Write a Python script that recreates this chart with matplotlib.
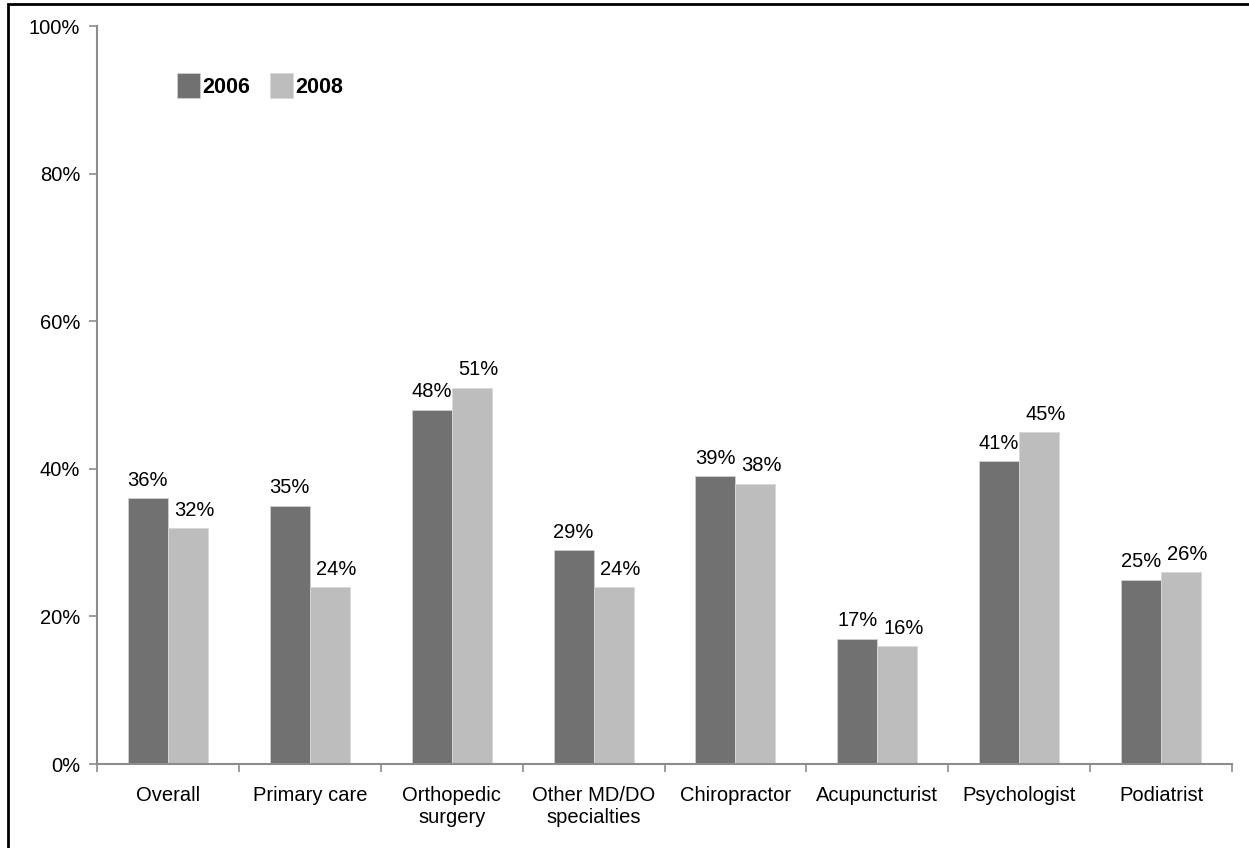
import numpy as np
import matplotlib.pyplot as plt
from matplotlib.patches import Rectangle
from matplotlib.ticker import FixedLocator, PercentFormatter

plt.rcParams['font.family'] = ['Liberation Sans', 'DejaVu Sans']

categories = ['Overall', 'Primary care', 'Orthopedic\nsurgery', 'Other MD/DO\nspecialties',
              'Chiropractor', 'Acupuncturist', 'Psychologist', 'Podiatrist']
y2006 = [36, 35, 48, 29, 39, 17, 41, 25]
y2008 = [32, 24, 51, 24, 38, 16, 45, 26]

W, H = 1249, 848
fig = plt.figure(figsize=(W / 100, H / 100), dpi=100)
ax = fig.add_axes([97 / W, (H - 764) / H, (1232 - 97) / W, (764 - 26) / H])

x = np.arange(len(categories))
bw = 0.282
dark, light = '#717171', '#bdbdbd'
b1 = ax.bar(x - bw / 2, y2006, bw, color=dark, edgecolor='#d0d0d0', linewidth=0.6, label='2006')
b2 = ax.bar(x + bw / 2, y2008, bw, color=light, edgecolor='#d8d8d8', linewidth=0.6, label='2008')

fs = 14.5
# value labels; the 2008 ones sit a little to the right of their bars
for bars, vals, dx in ((b1, y2006, 0), (b2, y2008, 4.5)):
    for rect, v in zip(bars, vals):
        ax.annotate(f'{v}%', (rect.get_x() + rect.get_width() / 2, v),
                    xytext=(dx, 6), textcoords='offset points',
                    ha='center', va='bottom', fontsize=fs)

ax.set_xlim(-0.5, len(categories) - 0.5)
ax.set_ylim(0, 100)
ax.set_yticks(range(0, 101, 20))
ax.yaxis.set_major_formatter(PercentFormatter(decimals=0))
ax.set_xticks(x)
ax.set_xticklabels(categories, fontsize=fs)
ax.xaxis.set_minor_locator(FixedLocator(np.arange(-0.5, len(categories), 1.0)))
ax.tick_params(axis='x', which='major', length=0, pad=16)
ax.tick_params(axis='x', which='minor', length=6, width=1.2, color='#8c8c8c', direction='out')
ax.tick_params(axis='y', length=6, width=1.2, color='#8c8c8c', labelsize=fs, pad=6)

for side in ('top', 'right'):
    ax.spines[side].set_visible(False)
for side in ('left', 'bottom'):
    ax.spines[side].set_color('#8c8c8c')
    ax.spines[side].set_linewidth(1.5)

leg = ax.legend(loc='upper left', bbox_to_anchor=(0.053, 0.962), ncol=2, frameon=False,
                handlelength=1.1, handleheight=1.4, handletextpad=0.1, columnspacing=0.9,
                prop={'weight': 'bold', 'size': 15.5})

# outer frame around the chart
fig.patches.append(Rectangle((8 / W, -0.02), 1.05, (H - 4) / H + 0.02, transform=fig.transFigure,
                             fill=False, edgecolor='black', linewidth=2))

fig.savefig('out.png', dpi=100)
